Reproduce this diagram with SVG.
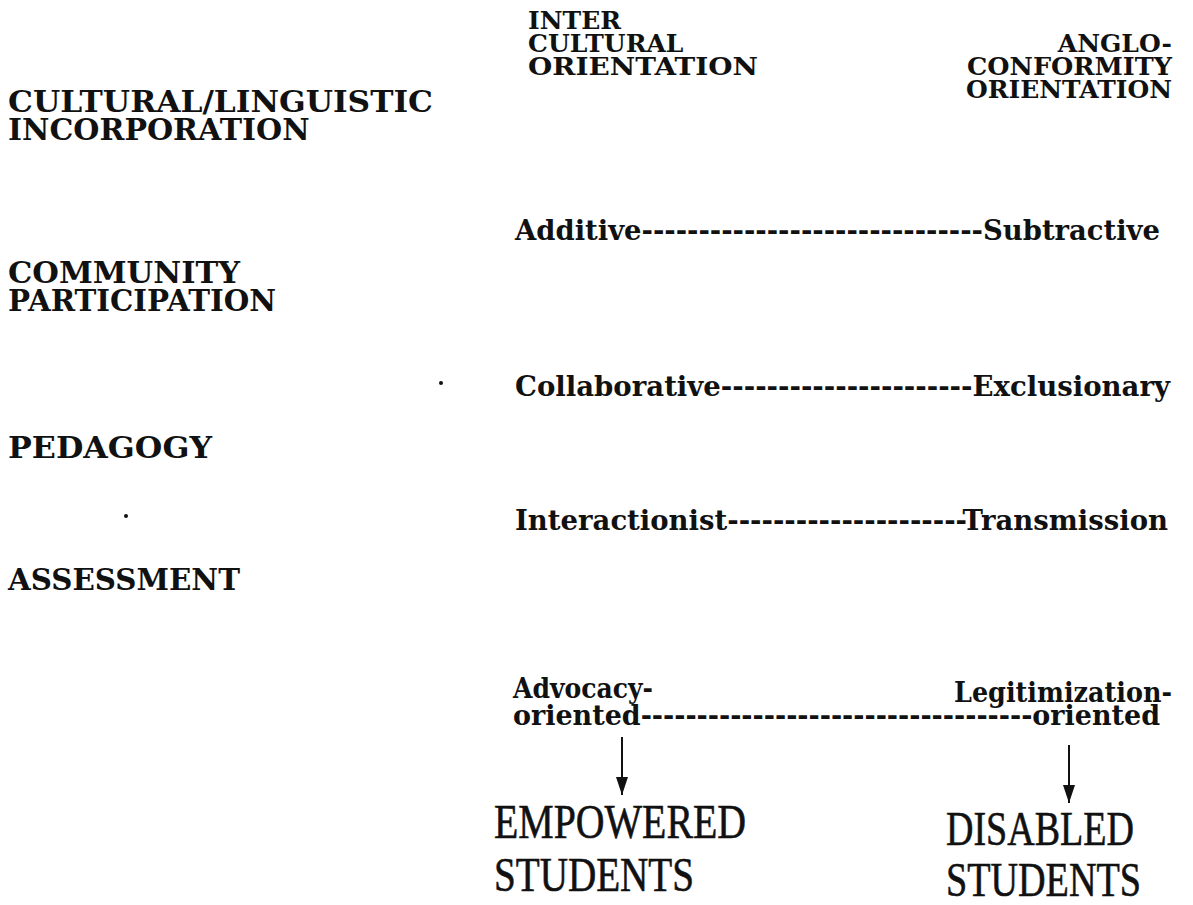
<svg xmlns="http://www.w3.org/2000/svg" width="1193" height="905" viewBox="0 0 1193 905">
  <style>
    .hd { font-family: "DejaVu Serif", "Liberation Serif", serif; font-weight: bold; font-size: 25px; fill: #111; }
    .hd-r { text-anchor: end; }
    .lbl { font-family: "DejaVu Serif", "Liberation Serif", serif; font-weight: bold; font-size: 30px; fill: #111; }
    .row { font-family: "DejaVu Serif", "Liberation Serif", serif; font-weight: bold; font-size: 27px; fill: #111; }
    .out { font-family: "Liberation Serif", "DejaVu Serif", serif; font-size: 48px; fill: #111; stroke: #111; stroke-width: 0.6; }
    .arrow { stroke: #111; stroke-width: 2; fill: none; }
    .speck { fill: #111; }
  </style>
  <defs>
    <marker id="head" markerWidth="18" markerHeight="12" refX="18" refY="6" orient="auto" markerUnits="userSpaceOnUse" viewBox="0 0 18 12">
      <path d="M0,0 L18,6 L0,12 Z" fill="#111"/>
    </marker>
  </defs>
  <rect width="1193" height="905" fill="#fff"/>

  <!-- column headings -->
  <g id="intercultural">
    <text class="hd" x="528" y="29">INTER</text>
    <text class="hd" x="528" y="52">CULTURAL</text>
    <text class="hd" x="528" y="75" textLength="230" lengthAdjust="spacingAndGlyphs">ORIENTATION</text>
  </g>
  <g id="angloconformity">
    <text class="hd hd-r" x="1172" y="52">ANGLO-</text>
    <text class="hd hd-r" x="1172" y="75" textLength="205" lengthAdjust="spacingAndGlyphs">CONFORMITY</text>
    <text class="hd hd-r" x="1172" y="98" textLength="206" lengthAdjust="spacingAndGlyphs">ORIENTATION</text>
  </g>

  <!-- dimensions -->
  <g id="incorporation">
    <text class="lbl" x="8" y="112" textLength="425" lengthAdjust="spacingAndGlyphs">CULTURAL/LINGUISTIC</text>
    <text class="lbl" x="8" y="140">INCORPORATION</text>
  </g>
  <g id="participation">
    <text class="lbl" x="8" y="283" textLength="232" lengthAdjust="spacingAndGlyphs">COMMUNITY</text>
    <text class="lbl" x="8" y="311" textLength="268" lengthAdjust="spacingAndGlyphs">PARTICIPATION</text>
  </g>
  <g id="pedagogy">
    <text class="lbl" x="8" y="458" textLength="204" lengthAdjust="spacingAndGlyphs">PEDAGOGY</text>
  </g>
  <g id="assessment">
    <text class="lbl" x="8" y="590" textLength="232" lengthAdjust="spacingAndGlyphs">ASSESSMENT</text>
  </g>

  <!-- continua -->
  <g id="row-incorporation">
    <text class="row" x="515" y="240" textLength="645" lengthAdjust="spacingAndGlyphs">Additive------------------------------Subtractive</text>
  </g>
  <g id="row-participation">
    <text class="row" x="515" y="396" textLength="655" lengthAdjust="spacingAndGlyphs">Collaborative----------------------Exclusionary</text>
  </g>
  <g id="row-pedagogy">
    <text class="row" x="515" y="530" textLength="653" lengthAdjust="spacingAndGlyphs">Interactionist---------------------Transmission</text>
  </g>
  <g id="row-assessment">
    <text class="row" x="513" y="698" textLength="140" lengthAdjust="spacingAndGlyphs">Advocacy-</text>
    <text class="row" x="954" y="702" textLength="218" lengthAdjust="spacingAndGlyphs">Legitimization-</text>
    <text class="row" x="513" y="725" textLength="647" lengthAdjust="spacingAndGlyphs">oriented-----------------------------------oriented</text>
  </g>

  <!-- outcomes -->
  <g id="empowered">
    <text class="out" x="494" y="838" textLength="252" lengthAdjust="spacingAndGlyphs">EMPOWERED</text>
    <text class="out" x="494" y="891" textLength="200" lengthAdjust="spacingAndGlyphs">STUDENTS</text>
  </g>
  <g id="disabled">
    <text class="out" x="946" y="845" textLength="188" lengthAdjust="spacingAndGlyphs">DISABLED</text>
    <text class="out" x="946" y="896" textLength="195" lengthAdjust="spacingAndGlyphs">STUDENTS</text>
  </g>

  <!-- connectors -->
  <g id="connectors">
    <line class="arrow" x1="622" y1="737" x2="622" y2="795" marker-end="url(#head)"/>
    <line class="arrow" x1="1069" y1="745" x2="1069" y2="803" marker-end="url(#head)"/>
  </g>

  <!-- stray print specks -->
  <circle class="speck" cx="441" cy="383" r="2"/>
  <circle class="speck" cx="126" cy="516" r="2"/>
</svg>
